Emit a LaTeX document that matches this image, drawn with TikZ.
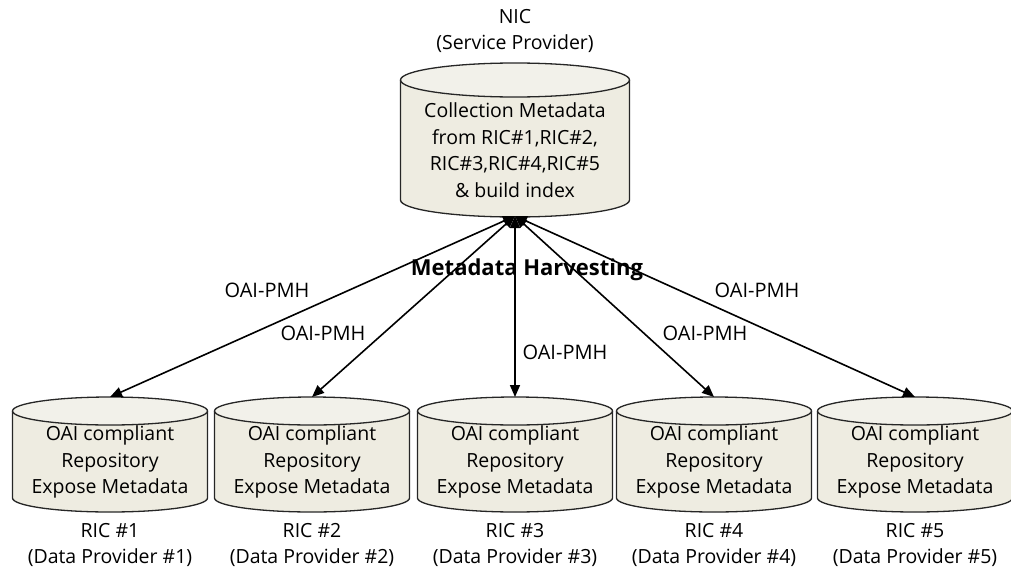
\documentclass[tikz,border=0pt]{standalone}
\usepackage{fontspec}
\setmainfont{Open Sans}
\usetikzlibrary{arrows.meta}
\definecolor{cylfill}{HTML}{EEECE1}
\definecolor{cyltop}{HTML}{F2F1EA}
\newcommand\drawcyl[6]{% cx, topy, boty, rx, ry, name
  \fill[cylfill] (#1-#4,#2) -- (#1-#4,#3) arc[start angle=180,end angle=360,x radius=#4,y radius=#5] -- (#1+#4,#2) -- cycle;
  \fill[cyltop] (#1,#2) ellipse[x radius=#4,y radius=#5];
  \draw[cylline] (#1-#4,#2) -- (#1-#4,#3) arc[start angle=180,end angle=360,x radius=#4,y radius=#5] -- (#1+#4,#2);
  \draw[cylline] (#1,#2) ellipse[x radius=#4,y radius=#5];
  \coordinate (#6top) at (#1,#2+#5);
  \coordinate (#6bot) at (#1,#3-#5);
}
\begin{document}
\begin{tikzpicture}[x=1pt,y=1pt,
  cylline/.style={draw=black!85,line width=1.3pt},
  txt/.style={align=center,font=\fontsize{19.5}{26.5}\selectfont,inner sep=0pt},
  lbl/.style={font=\fontsize{20}{26}\selectfont,inner sep=1pt},
  conn/.style={line width=1.6pt,{Triangle[length=12pt,width=10pt]}-{Triangle[length=12pt,width=10pt]}}]
\useasboundingbox (0,0) rectangle (1011,-570);
% top cylinder
\drawcyl{515}{-80}{-200}{114.5}{17}{nic}
\node[txt] (nictext) at (515,-150) {Collection Metadata\\from RIC\#1,RIC\#2,\\RIC\#3,RIC\#4,RIC\#5\\\& build index};
\node[txt] (niclabel) at (515,-31) {NIC\\(Service Provider)};
% bottom cylinders
\foreach \i/\cx in {1/110,2/312,3/515,4/714,5/915}{
  \drawcyl{\cx}{-411}{-498}{97.5}{14}{ric\i}
  \node[txt] (ric\i text) at (\cx,-462) {OAI compliant\\Repository\\Expose Metadata};
  \node[txt] (ric\i label) at (\cx,-545) {RIC \#\i\\(Data Provider \#\i)};
}
\coordinate (hub) at (515,-216);
\foreach \i in {1,...,5}{
  \draw[conn] (hub) -- (ric\i top);
}
\node[lbl] (h1) at (267,-290) {OAI-PMH};
\node[lbl] (h2) at (323,-333) {OAI-PMH};
\node[lbl] (h3) at (565,-352) {OAI-PMH};
\node[lbl] (h4) at (705,-333) {OAI-PMH};
\node[lbl] (h5) at (757,-290) {OAI-PMH};
\node[lbl,font=\fontsize{22}{26}\selectfont\bfseries] (harv) at (527,-270) {Metadata Harvesting};
\end{tikzpicture}
\end{document}
